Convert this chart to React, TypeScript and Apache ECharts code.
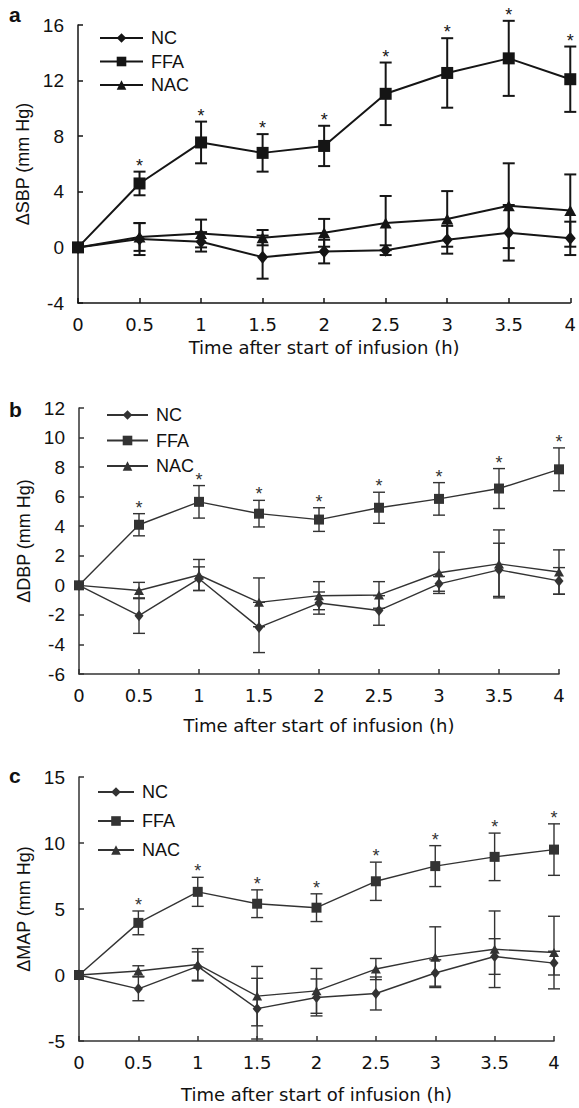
import React, { useEffect, useRef } from "react";
import * as echarts from "echarts";

// ---- data ----
const times = [0, 0.5, 1, 1.5, 2, 2.5, 3, 3.5, 4];
const groupNames = ["NC", "FFA", "NAC"];
const starFlags = [0, 1, 1, 1, 1, 1, 1, 1, 1]; // significance marks on FFA

// Panel a: ΔSBP
const sbpNC = [0, 0.6, 0.4, -0.7, -0.3, -0.2, 0.55, 1.05, 0.65];
const sbpNCErr = [0, 1.15, 0.7, 1.55, 0.85, 0.35, 1.0, 2.0, 1.2];
const sbpFFA = [0, 4.6, 7.55, 6.8, 7.3, 11.05, 12.55, 13.6, 12.1];
const sbpFFAErr = [0, 0.85, 1.5, 1.35, 1.45, 2.25, 2.5, 2.7, 2.35];
const sbpNAC = [0, 0.75, 1.0, 0.7, 1.05, 1.75, 2.05, 3.0, 2.65];
const sbpNACErr = [0, 1.0, 1.0, 0.55, 1.0, 1.95, 2.0, 3.05, 2.6];

// Panel b: ΔDBP
const dbpNC = [0, -2.05, 0.45, -2.85, -1.2, -1.7, 0.1, 1.05, 0.3];
const dbpNCErr = [0, 1.2, 0.8, 1.7, 0.75, 1.0, 0.5, 1.8, 0.9];
const dbpFFA = [0, 4.1, 5.65, 4.85, 4.45, 5.25, 5.85, 6.55, 7.85];
const dbpFFAErr = [0, 0.75, 1.1, 0.9, 0.8, 1.05, 1.1, 1.35, 1.45];
const dbpNAC = [0, -0.35, 0.7, -1.15, -0.7, -0.65, 0.85, 1.45, 0.9];
const dbpNACErr = [0, 0.55, 1.05, 1.65, 0.95, 0.9, 1.4, 2.3, 1.5];

// Panel c: ΔMAP
const mapNC = [0, -1.05, 0.65, -2.55, -1.7, -1.4, 0.15, 1.4, 0.9];
const mapNCErr = [0, 0.9, 1.1, 2.3, 1.4, 1.25, 1.0, 1.35, 0.9];
const mapFFA = [0, 3.95, 6.3, 5.4, 5.1, 7.1, 8.25, 8.95, 9.5];
const mapFFAErr = [0, 0.9, 1.1, 1.05, 1.05, 1.45, 1.55, 1.8, 1.95];
const mapNAC = [0, 0.3, 0.8, -1.6, -1.2, 0.45, 1.35, 1.95, 1.7];
const mapNACErr = [0, 0.4, 1.2, 2.25, 1.7, 0.8, 2.3, 2.9, 2.75];

const xTitle = "Time after start of infusion (h)";
const FONT = "'Liberation Sans', Arial, Helvetica, sans-serif";
const WIDE = "'DejaVu Sans', Verdana, sans-serif";

type PanelCfg = {
  letter: string;
  letterY: number;
  yName: string;
  yMin: number;
  yMax: number;
  yInterval: number;
  grid: { left: number; right: number; top: number; height: number };
  xNameGap: number;
  yNameGap: number;
  legend: { left: number; top: number; itemWidth: number; itemGap: number };
  color: string;
  lw: number;
  sizes: { NC: number[]; FFA: number; NAC: number[] };
  values: number[][];
  errs: number[][];
};

const panels: PanelCfg[] = [
  {
    letter: "a",
    letterY: 15,
    yName: "\u0394SBP (mm Hg)",
    yMin: -4,
    yMax: 16,
    yInterval: 4,
    grid: { left: 78, right: 5, top: 25, height: 278 },
    xNameGap: 35,
    yNameGap: 37,
    legend: { left: 99, top: 28, itemWidth: 43, itemGap: 3.5 },
    color: "#151515",
    lw: 2,
    sizes: { NC: [11, 13], FFA: 12, NAC: [12, 11] },
    values: [sbpNC, sbpFFA, sbpNAC],
    errs: [sbpNCErr, sbpFFAErr, sbpNACErr],
  },
  {
    letter: "b",
    letterY: 40,
    yName: "\u0394DBP (mm Hg)",
    yMin: -6,
    yMax: 12,
    yInterval: 2,
    grid: { left: 79, right: 20, top: 38, height: 266 },
    xNameGap: 42,
    yNameGap: 43,
    legend: { left: 106, top: 35, itemWidth: 41, itemGap: 5.5 },
    color: "#333333",
    lw: 1.4,
    sizes: { NC: [9, 11], FFA: 10, NAC: [10, 9] },
    values: [dbpNC, dbpFFA, dbpNAC],
    errs: [dbpNCErr, dbpFFAErr, dbpNACErr],
  },
  {
    letter: "c",
    letterY: 36,
    yName: "\u0394MAP (mm Hg)",
    yMin: -5,
    yMax: 15,
    yInterval: 5,
    grid: { left: 79, right: 25, top: 37, height: 269 },
    xNameGap: 44,
    yNameGap: 43,
    legend: { left: 97, top: 42, itemWidth: 36, itemGap: 9 },
    color: "#333333",
    lw: 1.4,
    sizes: { NC: [9, 11], FFA: 10, NAC: [10, 9] },
    values: [mapNC, mapFFA, mapNAC],
    errs: [mapNCErr, mapFFAErr, mapNACErr],
  },
];

const symbols = ["diamond", "rect", "triangle"];

function buildOption(p: PanelCfg) {
  const c = p.color;
  const lineSeries = groupNames.map((name, gi) => ({
    name,
    type: "line",
    data: times.map((t, i) => [t, p.values[gi][i]]),
    symbol: symbols[gi],
    symbolSize: gi === 0 ? p.sizes.NC : gi === 1 ? p.sizes.FFA : p.sizes.NAC,
    showAllSymbol: true,
    clip: false,
    z: 3,
    lineStyle: { color: c, width: p.lw },
    itemStyle: { color: c, borderWidth: 0 },
    emphasis: { disabled: true },
  }));
  const errSeries = groupNames.map((name, gi) => ({
    name: name + " SE",
    type: "custom",
    clip: false,
    z: 2,
    data: times.map((t, i) => [t, p.values[gi][i], p.errs[gi][i], gi === 1 ? starFlags[i] : 0]),
    encode: { x: 0, y: 1 },
    renderItem: (params: any, api: any) => {
      const x = api.value(0);
      const v = api.value(1);
      const e = api.value(2);
      const s = api.value(3);
      const top = api.coord([x, v + e]);
      const bot = api.coord([x, v - e]);
      const children: any[] = [];
      const ls = { stroke: c, lineWidth: p.lw };
      const hw = 6;
      if (e > 0) {
        children.push({ type: "line", shape: { x1: top[0], y1: top[1], x2: bot[0], y2: bot[1] }, style: ls });
        children.push({ type: "line", shape: { x1: top[0] - hw, y1: top[1], x2: top[0] + hw, y2: top[1] }, style: ls });
        children.push({ type: "line", shape: { x1: bot[0] - hw, y1: bot[1], x2: bot[0] + hw, y2: bot[1] }, style: ls });
      }
      if (s) {
        children.push({
          type: "text",
          x: top[0],
          y: top[1] - 6,
          style: { text: "*", fill: c, font: `18px ${FONT}`, align: "center", verticalAlign: "middle" },
        });
      }
      return { type: "group", children };
    },
  }));

  return {
    animation: false,
    textStyle: { fontFamily: FONT },
    graphic: [
      {
        type: "text",
        left: 9,
        top: p.letterY - 11,
        style: { text: p.letter, font: `bold 21px ${FONT}`, fill: "#111" },
      },
    ],
    legend: {
      orient: "vertical",
      left: p.legend.left,
      top: p.legend.top,
      padding: 0,
      itemWidth: p.legend.itemWidth,
      itemHeight: 12,
      itemGap: p.legend.itemGap,
      data: groupNames,
      selectedMode: false,
      textStyle: { fontSize: 18, color: "#111", lineHeight: 20, padding: [0, 0, 0, 3], fontFamily: FONT },
    },
    grid: { ...p.grid },
    xAxis: {
      type: "value",
      min: 0,
      max: 4,
      interval: 0.5,
      name: xTitle,
      nameLocation: "middle",
      nameGap: p.xNameGap,
      nameTextStyle: { fontSize: 18, color: "#111", fontFamily: WIDE },
      axisLine: { onZero: false, lineStyle: { color: c, width: 1.5 } },
      axisTick: { inside: true, length: 5, lineStyle: { color: c, width: 1.5 } },
      axisLabel: { fontSize: 18, color: "#111", margin: 12, fontFamily: WIDE },
      splitLine: { show: false },
    },
    yAxis: {
      type: "value",
      min: p.yMin,
      max: p.yMax,
      interval: p.yInterval,
      name: p.yName,
      nameLocation: "middle",
      nameGap: p.yNameGap,
      nameTextStyle: { fontSize: 18, color: "#111", fontFamily: FONT },
      axisLine: { show: true, onZero: false, lineStyle: { color: c, width: 1.5 } },
      axisTick: { show: true, inside: true, length: 5, lineStyle: { color: c, width: 1.5 } },
      axisLabel: { fontSize: 19, color: "#111", margin: 14, fontFamily: FONT },
      splitLine: { show: false },
    },
    series: [...errSeries, ...lineSeries],
  };
}

const offsets = [
  { top: 0, height: 370 },
  { top: 370, height: 370 },
  { top: 740, height: 368 },
];

function Panel({ cfg, top, height }: { cfg: PanelCfg; top: number; height: number }) {
  const ref = useRef<HTMLDivElement>(null);
  useEffect(() => {
    if (!ref.current) return;
    const chart = echarts.init(ref.current, undefined, { renderer: "svg" });
    chart.setOption(buildOption(cfg) as any);
    return () => chart.dispose();
  }, [cfg]);
  return (
    <div
      ref={ref}
      style={{ position: "absolute", left: 0, top, width: 579, height }}
    />
  );
}

export default function App() {
  return (
    <div style={{ position: "absolute", left: 0, top: 0, width: 579, height: 1108, background: "#fff" }}>
      {panels.map((p, i) => (
        <Panel key={p.letter} cfg={p} top={offsets[i].top} height={offsets[i].height} />
      ))}
    </div>
  );
}
